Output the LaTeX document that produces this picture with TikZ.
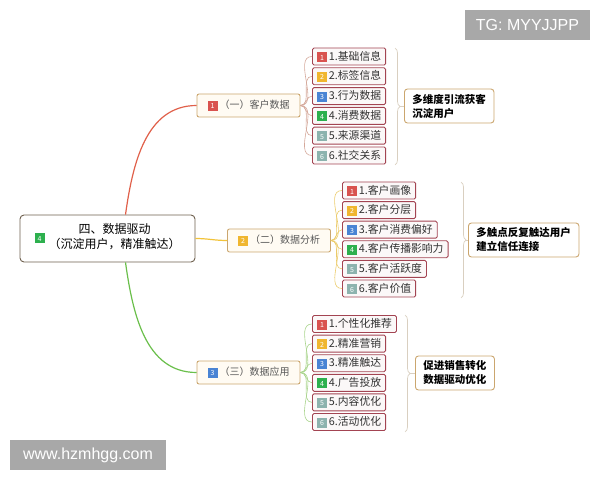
\documentclass[tikz,border=0pt]{standalone}
\usepackage{fontspec}
\setmainfont{Noto Sans CJK SC}
\newfontfamily\wmfont{Liberation Sans}
\usetikzlibrary{decorations.pathreplacing}

\definecolor{tag1}{HTML}{D9534F}
\definecolor{tag2}{HTML}{F0B62F}
\definecolor{tag3}{HTML}{4A84D4}
\definecolor{tag4}{HTML}{2DB04E}
\definecolor{tag5}{HTML}{8DB3AE}
\definecolor{tag6}{HTML}{8DB3AE}
\definecolor{leafline}{HTML}{A34452}
\definecolor{leaffill}{HTML}{FBF8F8}
\definecolor{branchline}{HTML}{CBA66E}
\definecolor{branchfill}{HTML}{FFFBF3}
\definecolor{rootline}{HTML}{6E604E}
\definecolor{bracecol}{HTML}{D9CFC0}
\definecolor{wmgray}{HTML}{A8A8A8}
\definecolor{edgered}{HTML}{E0604A}
\definecolor{edgeyellow}{HTML}{F2C33A}
\definecolor{edgegreen}{HTML}{6ABF4B}
\definecolor{fanred}{HTML}{D4A89A}
\definecolor{fanyellow}{HTML}{EBCB6A}
\definecolor{fangreen}{HTML}{A9D48C}

\newcommand{\numtag}[1]{{\setlength{\fboxsep}{0pt}\colorbox{tag#1}{\makebox[10pt][c]{\rule[-2pt]{0pt}{10pt}\fontsize{7}{7}\selectfont\color{white}#1}}}\hspace{2pt}}

\tikzset{
	leaf/.style={draw=leafline, line width=0.9pt, fill=leaffill, rounded corners=1.5pt, anchor=west,
		inner xsep=4.5pt, inner ysep=0pt, minimum height=17pt, text=black!80, font=\fontsize{10.8}{13}\selectfont},
	branch/.style={draw=branchline, line width=0.9pt, fill=branchfill, rounded corners=2pt,
		minimum width=103pt, minimum height=23pt, inner sep=0pt, text=black!65, font=\fontsize{10}{12}\selectfont},
	summary/.style={draw=branchline, line width=0.9pt, fill=white, rounded corners=3pt, anchor=west, align=left,
		inner xsep=8pt, minimum height=34pt, font=\bfseries\fontsize{10.5}{14}\selectfont},
	rootbox/.style={draw=rootline, line width=0.9pt, fill=white, rounded corners=4pt,
		minimum width=175pt, minimum height=47pt, inner sep=0pt, font=\fontsize{12}{15}\selectfont},
	fan/.style={line width=0.6pt, out=0, in=180},
	bracket/.style={decorate, decoration={brace, amplitude=5pt}, draw=bracecol, line width=0.7pt},
	wmark/.style={fill=wmgray, text=white, inner sep=0pt, minimum height=30pt, font=\wmfont\fontsize{16}{16}\selectfont}
}

\begin{document}
\begin{tikzpicture}[x=1pt, y=1pt]
	\useasboundingbox (0,0) rectangle (600,480);
	
	% main nodes
	\node[rootbox] (root) at (107.5,241.5) {\numtag{4}\hspace{2pt}\begin{tabular}{@{}c@{}}四、数据驱动\\（沉淀用户，精准触达）\end{tabular}\hspace{9pt}};
	
	\node[branch] (b1) at (248.5,374.5) {\numtag{1}（一）客户数据};
	\node[branch] (b2) at (279,239.5) {\numtag{2}（二）数据分析};
	\node[branch] (b3) at (248.5,107.5) {\numtag{3}（三）数据应用};
	
	\draw[edgered, line width=1.2pt] ([xshift=18pt]root.north) to[out=82, in=180] (b1.west);
	\draw[edgeyellow, line width=1.2pt] (root.east) to[out=0, in=180] (b2.west);
	\draw[edgegreen, line width=1.2pt] ([xshift=18pt]root.south) to[out=-82, in=180] (b3.west);
	
	% leaves
	\foreach \i/\t in {1/基础信息, 2/标签信息, 3/行为数据, 4/消费数据, 5/来源渠道, 6/社交关系}
		\node[leaf] (a\i) at (312, 443.3-19.8*\i) {\numtag{\i}\i.\t};
	\foreach \i/\t in {1/客户画像, 2/客户分层, 3/客户消费偏好, 4/客户传播影响力, 5/客户活跃度, 6/客户价值}
		\node[leaf] (c\i) at (342, 309.1-19.6*\i) {\numtag{\i}\i.\t};
	\foreach \i/\t in {1/个性化推荐, 2/精准营销, 3/精准触达, 4/广告投放, 5/内容优化, 6/活动优化}
		\node[leaf] (d\i) at (312, 175.6-19.6*\i) {\numtag{\i}\i.\t};
	
	\foreach \i in {1,...,6} {
		\draw[fan, fanred] (b1.east) to (a\i.west);
		\draw[fan, fanyellow] (b2.east) to (c\i.west);
		\draw[fan, fangreen] (b3.east) to (d\i.west);
	}
	
	% summaries
	\draw[bracket] (395,432) -- (395,315);
	\coordinate (t1) at (400,374);
	\node[summary] (s1) at (404,374) {多维度引流获客\\沉淀用户};
	\draw[bracecol, line width=0.7pt] (t1) -- (s1.west);
	
	\draw[bracket] (461,298) -- (461,182);
	\coordinate (t2) at (466,240);
	\node[summary] (s2) at (468,240) {多触点反复触达用户\\建立信任连接};
	\draw[bracecol, line width=0.7pt] (t2) -- (s2.west);
	
	\draw[bracket] (405,165) -- (405,48);
	\coordinate (t3) at (410,107);
	\node[summary] (s3) at (415,107) {促进销售转化\\数据驱动优化};
	\draw[bracecol, line width=0.7pt] (t3) -- (s3.west);
	
	% marks
	\node[wmark, minimum width=125pt] (tg) at (527.5,455) {TG: MYYJJPP};
	\node[wmark, minimum width=156pt] (www) at (88,25) {www.hzmhgg.com};
	
\end{tikzpicture}
\end{document}
